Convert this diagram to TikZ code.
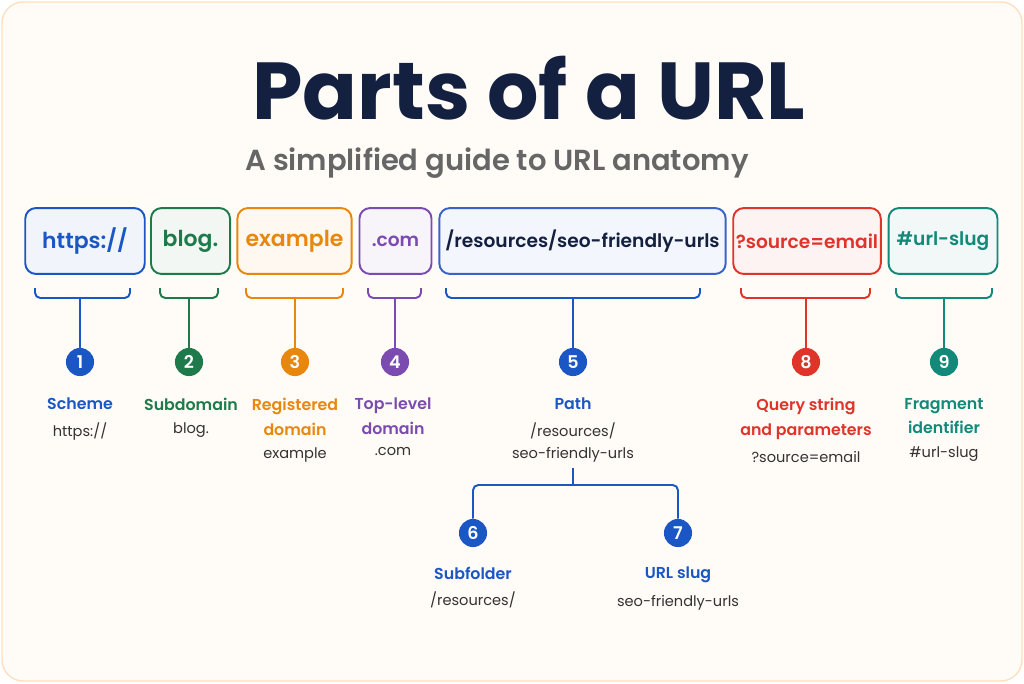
\documentclass[tikz,border=0pt]{standalone}
\usepackage{fontspec}
\setmainfont{Poppins}[BoldFont=* SemiBold]
\newfontfamily\titlefont{Poppins}[UprightFont=* Bold]
\usetikzlibrary{positioning}
\definecolor{navy}{HTML}{13203F}
\definecolor{cblue}{HTML}{1A56C4}
\definecolor{cgreen}{HTML}{1E7A4A}
\definecolor{corange}{HTML}{E8870E}
\definecolor{cpurple}{HTML}{7B4BB0}
\definecolor{cred}{HTML}{E0342B}
\definecolor{cteal}{HTML}{13897A}
\definecolor{cpath}{HTML}{3A63C8}
\tikzset{
  part/.style={draw=#1, fill=#1!6, line width=1.1pt, rounded corners=6pt,
    minimum height=37.5pt, inner xsep=0pt, font=\fontsize{12.5}{15}\selectfont\bfseries, text=#1},
  small/.style={font=\fontsize{10.6}{15}\selectfont\bfseries},
  num/.style={circle, fill=#1, text=white, minimum size=16pt, inner sep=0pt,
    font=\fontsize{10}{12}\selectfont\bfseries},
  lbl/.style={text=#1, align=center, font=\fontsize{9}{14}\selectfont\bfseries},
  val/.style={text=black!80, align=center, font=\fontsize{8.3}{12.5}\selectfont},
  brace/.style={draw=#1, line width=1.1pt, rounded corners=3pt},
}
\begin{document}
\begin{tikzpicture}[x=0.02cm,y=-0.02cm]
    \useasboundingbox (0,0) rectangle (1024,683);
    \draw[draw=orange!25, fill=orange!3, line width=0.8pt, rounded corners=12pt] (2,2) rectangle (1022,681);
    \node[text=navy, font=\titlefont\fontsize{46}{50}\selectfont] (title) at (529,88) {Parts of a URL};
    \node[text=black!60, font=\fontsize{16.5}{20}\selectfont\bfseries] (sub) at (497,163) {A simplified guide to URL anatomy};
    % url pieces
    \node[part=cblue, minimum width=68pt] (scheme) at (85,241) {https://};
    \node[part=cgreen, minimum width=45pt] (subd) at (190.5,241) {blog.};
    \node[part=corange, minimum width=65pt] (reg) at (294.5,241) {example};
    \node[part=cpurple, minimum width=41pt, small] (tld) at (395.5,241) {.com};
    \node[part=cpath, text=navy, minimum width=163pt, small] (path) at (582.5,241) {/resources/seo-friendly-urls};
    \node[part=cred, minimum width=84pt, small] (query) at (807,241) {?source=email};
    \node[part=cteal, minimum width=62pt, small] (frag) at (943,241) {\#url-slug};
    % numbers
    \node[num=cblue] (n1) at (80,362) {1};
    \node[num=cgreen] (n2) at (189,362) {2};
    \node[num=corange] (n3) at (295,362) {3};
    \node[num=cpurple] (n4) at (395,362) {4};
    \node[num=cblue] (n5) at (573,362) {5};
    \node[num=cred] (n8) at (806,362) {8};
    \node[num=cteal] (n9) at (944,362) {9};
    % braces
    \draw[brace=cblue] (35,288) -- (35,298) -- (130,298) -- (130,288);
    \draw[brace=cgreen] (160,288) -- (160,298) -- (218,298) -- (218,288);
    \draw[brace=corange] (246,288) -- (246,298) -- (343,298) -- (343,288);
    \draw[brace=cpurple] (368,288) -- (368,298) -- (421,298) -- (421,288);
    \draw[brace=cblue] (446,288) -- (446,298) -- (700,298) -- (700,288);
    \draw[brace=cred] (741,288) -- (741,298) -- (870,298) -- (870,288);
    \draw[brace=cteal] (896,288) -- (896,298) -- (992,298) -- (992,288);
    \coordinate (b1) at (80,298);
    \coordinate (b2) at (189,298);
    \coordinate (b3) at (295,298);
    \coordinate (b4) at (395,298);
    \coordinate (b5) at (573,298);
    \coordinate (b8) at (806,298);
    \coordinate (b9) at (944,298);
    \draw[brace=cblue] (b1) -- (n1);
    \draw[brace=cgreen] (b2) -- (n2);
    \draw[brace=corange] (b3) -- (n3);
    \draw[brace=cpurple] (b4) -- (n4);
    \draw[brace=cblue] (b5) -- (n5);
    \draw[brace=cred] (b8) -- (n8);
    \draw[brace=cteal] (b9) -- (n9);
    % labels
    \node[lbl=cblue, anchor=north] (l1) at (80,392) {Scheme};
    \node[val, below=0pt of l1] (v1) {https://};
    \node[lbl=cgreen, anchor=north] (l2) at (191,392) {Subdomain};
    \node[val, below=0pt of l2] (v2) {blog.};
    \node[lbl=corange, anchor=north] (l3) at (295,392) {Registered\\domain};
    \node[val, below=0pt of l3] (v3) {example};
    \node[lbl=cpurple, anchor=north] (l4) at (393,392) {Top-level\\domain};
    \node[val, below=0pt of l4] (v4) {.com};
    \node[lbl=cblue, anchor=north] (l5) at (573,392) {Path};
    \node[val, below=0pt of l5] (v5) {/resources/\\seo-friendly-urls};
    \node[lbl=cred, anchor=north] (l8) at (806,392) {Query string\\and parameters};
    \node[val, below=0pt of l8] (v8) {?source=email};
    \node[lbl=cteal, anchor=north] (l9) at (944,392) {Fragment\\identifier};
    \node[val, below=0pt of l9] (v9) {\#url-slug};
    % path split
    \node[num=cblue] (n6) at (473,533) {6};
    \node[num=cblue] (n7) at (678,533) {7};
    \coordinate (split) at (573,485);
    \draw[brace=cblue] (v5) -- (split);
    \draw[brace=cblue] (n6) -- (473,485) -- (678,485) -- (n7);
    \node[lbl=cblue, anchor=north] (l6) at (473,561) {Subfolder};
    \node[val, below=0pt of l6] (v6) {/resources/};
    \node[lbl=cblue, anchor=north] (l7) at (678,561) {URL slug};
    \node[val, below=0pt of l7] (v7) {seo-friendly-urls};
\end{tikzpicture}
\end{document}
